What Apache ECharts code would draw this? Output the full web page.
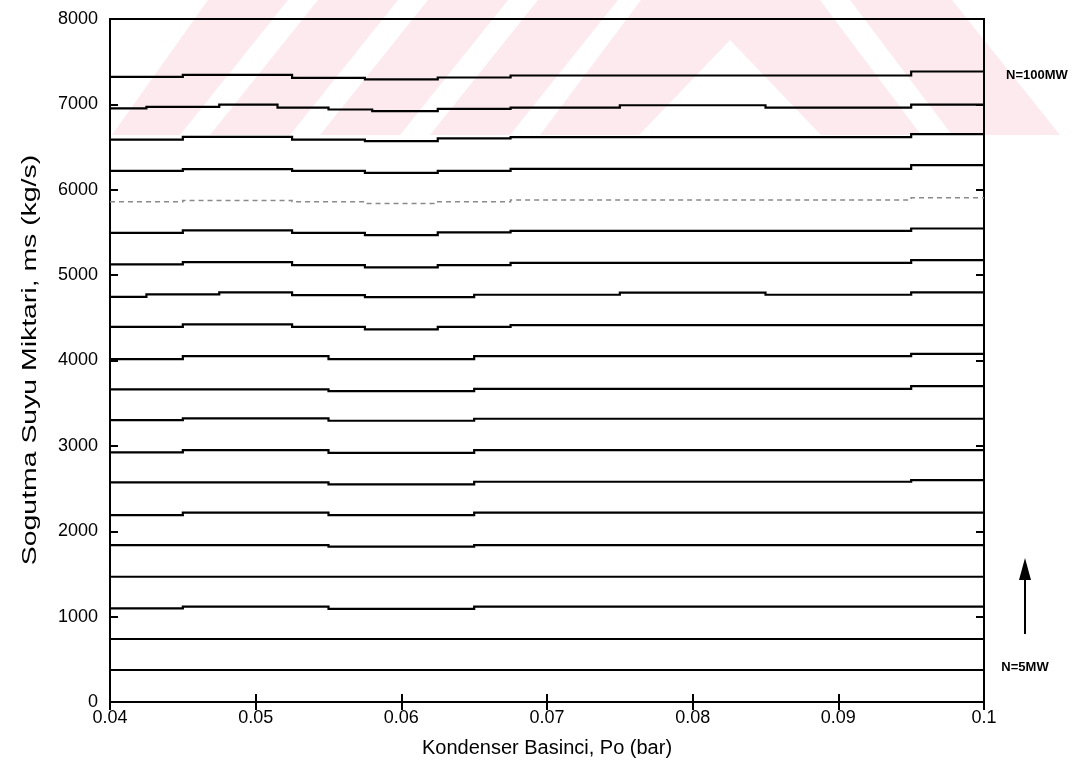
<!DOCTYPE html>
<html>
<head>
<meta charset="utf-8">
<script src="https://cdn.jsdelivr.net/npm/echarts@6/dist/echarts.min.js"></script>
<style>
html,body{margin:0;padding:0;background:#fff;}
#chart{width:1076px;height:778px;}
</style>
</head>
<body>
<div id="chart"></div>
<script>
// Power levels (MW) of the curves
const powers = [5,10,15,20,25,30,35,40,45,50,55,60,65,70,75,80,85,90,95,100];

// Cooling water flow (kg/s) vs condenser pressure (bar); step points [Po, ms]
const s5   = [[0.04,375],[0.1,375]];
const s10  = [[0.04,738],[0.1,738]];
const s15  = [[0.04,1097],[0.045,1116],[0.055,1090],[0.065,1116],[0.1,1116]];
const s20  = [[0.04,1467],[0.1,1467]];
const s25  = [[0.04,1838],[0.055,1819],[0.065,1838],[0.1,1838]];
const s30  = [[0.04,2190],[0.045,2217],[0.055,2190],[0.065,2219],[0.1,2219]];
const s35  = [[0.04,2572],[0.055,2549],[0.065,2580],[0.095,2600],[0.1,2600]];
const s40  = [[0.04,2923],[0.045,2951],[0.055,2919],[0.065,2951],[0.1,2951]];
const s45  = [[0.04,3302],[0.045,3322],[0.055,3294],[0.065,3318],[0.1,3318]];
const s50  = [[0.04,3662],[0.055,3642],[0.065,3668],[0.095,3700],[0.1,3700]];
const s55  = [[0.04,4016],[0.045,4052],[0.055,4016],[0.065,4052],[0.095,4078],[0.1,4078]];
const s60  = [[0.04,4395],[0.045,4422],[0.0525,4395],[0.0575,4364],[0.0625,4395],[0.0675,4415],[0.1,4415]];
const s65  = [[0.04,4746],[0.0425,4774],[0.0475,4797],[0.0525,4766],[0.0575,4742],[0.065,4770],[0.075,4795],[0.085,4770],[0.095,4797],[0.1,4797]];
const s70  = [[0.04,5125],[0.045,5152],[0.0525,5117],[0.0575,5090],[0.0625,5117],[0.0675,5144],[0.095,5176],[0.1,5176]];
const s75  = [[0.04,5496],[0.045,5523],[0.0525,5496],[0.0575,5468],[0.0625,5500],[0.0675,5519],[0.095,5546],[0.1,5546]];
const s80  = [[0.04,5858],[0.045,5875],[0.0525,5858],[0.0575,5840],[0.0625,5858],[0.0675,5880],[0.095,5905],[0.1,5905]];
const s85  = [[0.04,6221],[0.045,6241],[0.0525,6221],[0.0575,6198],[0.0625,6221],[0.0675,6245],[0.095,6288],[0.1,6288]];
const s90  = [[0.04,6588],[0.045,6620],[0.0525,6588],[0.0575,6569],[0.0625,6601],[0.0675,6616],[0.095,6651],[0.1,6651]];
const s95  = [[0.04,6952],[0.0425,6971],[0.0475,6998],[0.0515,6963],[0.055,6940],[0.058,6920],[0.0625,6947],[0.0675,6963],[0.075,6990],[0.085,6963],[0.095,6998],[0.1,6998]];
const s100 = [[0.04,7322],[0.045,7345],[0.0525,7310],[0.0575,7292],[0.0625,7315],[0.0675,7338],[0.095,7385],[0.1,7385]];

const curves = [s5,s10,s15,s20,s25,s30,s35,s40,s45,s50,s55,s60,s65,s70,s75,s80,s85,s90,s95,s100];

const xTitle = 'Kondenser Basinci, Po (bar)';
const yTitle = 'Sogutma Suyu Miktari, ms (kg/s)';
const topLabel = 'N=100MW';
const bottomLabel = 'N=5MW';

const FONT = 'Liberation Sans, Arial, sans-serif';
const chart = echarts.init(document.getElementById('chart'), null, {renderer:'canvas'});

// each value holds until the next step point (staircase)
function staircase(d) {
  const out = [d[0]];
  for (let i = 1; i < d.length; i++) {
    out.push([d[i][0], d[i-1][1]]);
    out.push(d[i]);
  }
  return out;
}

// 'lines' series keeps the small vertical steps (line series drops sub-2px segments)
const series = curves.map((d, i) => ({
  name: 'N=' + powers[i] + 'MW',
  type: 'lines',
  coordinateSystem: 'cartesian2d',
  xAxisIndex: 0, yAxisIndex: 0,
  polyline: true,
  silent: true,
  z: 3,
  data: [{coords: staircase(d)}],
  lineStyle: powers[i] === 80
    ? {color: '#8a8a8a', width: 1.5, type: [5, 4], opacity: 1}
    : {color: '#000', width: 2.2, opacity: 1}
}));

// pale watermark bands at the top of the page
const pink = '#fdeaee';
const wm = [
  [[112,135],[180,135],[288,0],[208,0]],
  [[210,135],[290,135],[398,0],[318,0]],
  [[320,135],[400,135],[508,0],[428,0]],
  [[430,135],[510,135],[618,0],[538,0]],
  [[540,135],[641,0],[820,0],[921,135],[821,135],[730,40],[639,135]],
  [[952,135],[1060,135],[952,0],[850,0]]
].map(p => ({type:'polygon', z:-10, silent:true, shape:{points:p}, style:{fill:pink}}));

const option = {
  animation: false,
  backgroundColor: '#fff',
  grid: {left:110, right:92, top:19, bottom:76, show:true, borderColor:'#000', borderWidth:2, backgroundColor:'transparent'},
  xAxis: [{
    type:'value', min:0.04, max:0.1, interval:0.01,
    name: xTitle, nameLocation:'middle', nameGap:36,
    nameTextStyle:{fontFamily:FONT, fontSize:20, color:'#000'},
    axisLine:{show:true, lineStyle:{color:'#000', width:2}},
    axisTick:{show:true, inside:true, length:8, lineStyle:{color:'#000', width:2}},
    axisLabel:{fontFamily:FONT, fontSize:18, color:'#000', margin:7,
      formatter: v => String(+v.toFixed(2))},
    splitLine:{show:false}
  },{
    type:'value', min:0.04, max:0.1, interval:0.01, position:'top',
    axisLine:{show:true, lineStyle:{color:'#000', width:2}},
    axisTick:{show:true, inside:true, length:8, lineStyle:{color:'#000', width:2}},
    axisLabel:{show:false}, splitLine:{show:false}
  }],
  yAxis: [{
    type:'value', min:0, max:8000, interval:1000,
    axisLine:{show:true, lineStyle:{color:'#000', width:2}},
    axisTick:{show:true, inside:true, length:8, lineStyle:{color:'#000', width:2}},
    axisLabel:{fontFamily:FONT, fontSize:18, color:'#000', margin:12,
      formatter: v => String(Math.round(v))},
    splitLine:{show:false}
  },{
    type:'value', min:0, max:8000, interval:1000, position:'right',
    axisLine:{show:true, lineStyle:{color:'#000', width:2}},
    axisTick:{show:true, inside:true, length:8, lineStyle:{color:'#000', width:2}},
    axisLabel:{show:false}, splitLine:{show:false}
  }],
  series: series,
  graphic: [
    ...wm,
    {type:'text', z:10, x:30, y:360, rotation:Math.PI/2, scaleX:1.42,
      style:{text:yTitle, fontFamily:FONT, fontSize:20, fill:'#000', align:'center', verticalAlign:'middle'}},
    {type:'text', z:10, x:1037, y:75,
      style:{text:topLabel, fontFamily:'Liberation Sans Narrow, Liberation Sans, sans-serif', fontWeight:'bold', fontSize:13, fill:'#000', align:'center', verticalAlign:'middle'}},
    {type:'text', z:10, x:1025, y:667,
      style:{text:bottomLabel, fontFamily:'Liberation Sans Narrow, Liberation Sans, sans-serif', fontWeight:'bold', fontSize:13, fill:'#000', align:'center', verticalAlign:'middle'}},
    {type:'line', z:10, shape:{x1:1025, y1:634, x2:1025, y2:575}, style:{stroke:'#000', lineWidth:2}},
    {type:'polygon', z:10, shape:{points:[[1019,580],[1031,580],[1025,558]]}, style:{fill:'#000'}}
  ]
};
chart.setOption(option);
</script>
</body>
</html>
